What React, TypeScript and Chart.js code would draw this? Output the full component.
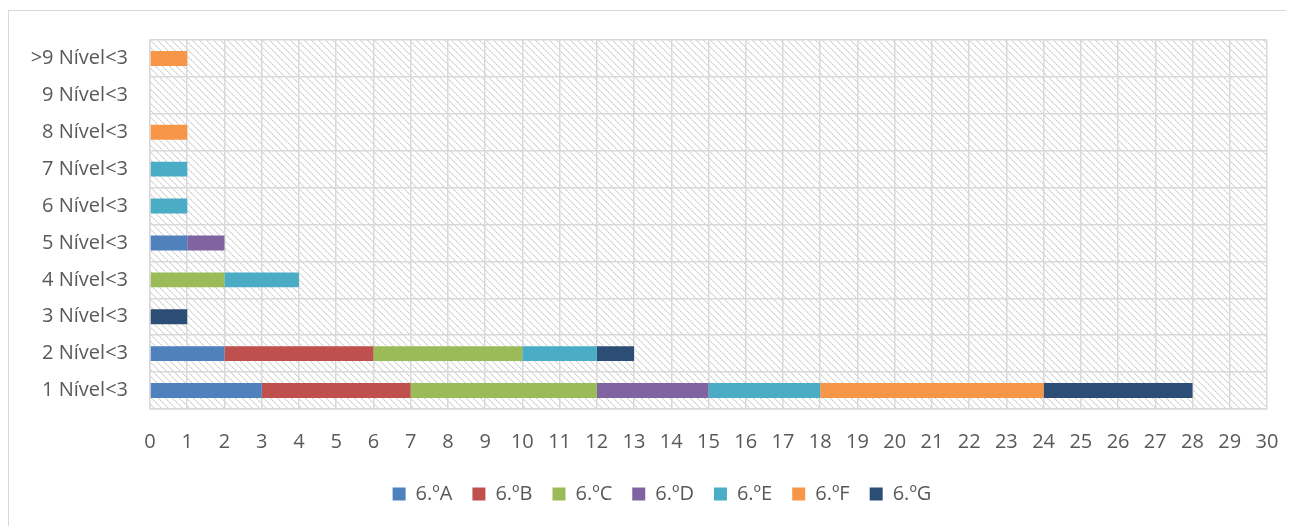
import React, { useEffect, useRef } from "react";
import { Chart, registerables } from "chart.js";

Chart.register(...registerables);

const categories = [">9 Nível<3", "9 Nível<3", "8 Nível<3", "7 Nível<3", "6 Nível<3", "5 Nível<3", "4 Nível<3", "3 Nível<3", "2 Nível<3", "1 Nível<3"];
const seriesNames = ["6.ºA", "6.ºB", "6.ºC", "6.ºD", "6.ºE", "6.ºF", "6.ºG"];
const colors = ["#4F81BD", "#C0504D", "#9BBB59", "#8064A2", "#4BACC6", "#F79646", "#2C4D75"];
const valsA = [0, 0, 0, 0, 0, 1, 0, 0, 2, 3];
const valsB = [0, 0, 0, 0, 0, 0, 0, 0, 4, 4];
const valsC = [0, 0, 0, 0, 0, 0, 2, 0, 4, 5];
const valsD = [0, 0, 0, 0, 0, 1, 0, 0, 0, 3];
const valsE = [0, 0, 0, 1, 1, 0, 2, 0, 2, 3];
const valsF = [1, 0, 1, 0, 0, 0, 0, 0, 0, 6];
const valsG = [0, 0, 0, 0, 0, 0, 0, 1, 1, 4];
const seriesValues = [valsA, valsB, valsC, valsD, valsE, valsF, valsG];
const xMin = 0;
const xMax = 30;

const FONT = "'Open Sans', sans-serif";
const TEXT = "#595959";

function makePattern(): CanvasPattern | string {
  const n = 7;
  const c = document.createElement("canvas");
  c.width = n;
  c.height = n;
  const ctx = c.getContext("2d");
  if (!ctx) return "#fff";
  ctx.fillStyle = "#ffffff";
  ctx.fillRect(0, 0, n, n);
  for (let i = 0; i < n; i++) {
    ctx.fillStyle = i % 2 === 0 ? "#cfcfcf" : "#dedede";
    ctx.fillRect(i, i, 1, 1);
    ctx.fillStyle = "#efefef";
    ctx.fillRect((i + 1) % n, i, 1, 1);
  }
  const p = ctx.createPattern(c, "repeat");
  return p || "#fff";
}

const bgPlugin = {
  id: "hatchBg",
  afterLayout(chart: any) {
    if (chart.legend) {
      chart.legend.left += 24;
      chart.legend.right += 24;
    }
  },
  beforeDraw(chart: any) {
    const { ctx, chartArea } = chart;
    if (!chartArea) return;
    ctx.save();
    ctx.fillStyle = makePattern();
    ctx.fillRect(chartArea.left, chartArea.top, chartArea.right - chartArea.left, chartArea.bottom - chartArea.top);
    ctx.restore();
  },
};

export default function App() {
  const ref = useRef<HTMLCanvasElement | null>(null);
  useEffect(() => {
    document.body.style.overflow = "hidden";
    if (!ref.current) return;
    const chart = new Chart(ref.current, {
      type: "bar",
      data: {
        labels: categories,
        datasets: seriesNames.map((name, i) => ({
          label: name,
          data: seriesValues[i],
          backgroundColor: colors[i],
          borderWidth: 0,
          categoryPercentage: 0.45,
          barPercentage: 0.9,
        })),
      },
      options: {
        indexAxis: "y",
        animation: false,
        responsive: false,
        maintainAspectRatio: false,
        layout: { padding: { top: 29, right: 27, left: 0, bottom: 17 } },
        plugins: {
          legend: {
            position: "bottom",
            labels: {
              color: TEXT,
              font: { family: FONT, size: 20 },
              boxWidth: 13,
              boxHeight: 13,
              padding: 20,
            },
          },
          tooltip: { enabled: false },
        },
        scales: {
          x: {
            stacked: true,
            min: xMin,
            max: xMax,
            ticks: { stepSize: 1, color: TEXT, font: { family: FONT, size: 20 }, padding: 21, maxRotation: 0, autoSkip: false },
            grid: { color: "#d9d9d9", lineWidth: 1.5, drawTicks: false },
            border: { color: "#d9d9d9", width: 1.5 },
            afterFit(scale: any) {
              scale.height = 55;
              scale.paddingLeft = 0;
              scale.paddingRight = 0;
            },
          },
          y: {
            stacked: true,
            ticks: { color: TEXT, font: { family: FONT, size: 20 }, padding: 22 },
            grid: { color: "#d9d9d9", lineWidth: 1.5, drawTicks: false, offset: true },
            border: { color: "#d9d9d9", width: 1.5 },
            afterFit(scale: any) {
              scale.width = 141;
              scale.paddingTop = 0;
              scale.paddingBottom = 0;
            },
          },
        },
      },
      plugins: [bgPlugin],
    } as any);
    return () => chart.destroy();
  }, []);
  return (
    <div style={{ marginTop: 2, width: 1286, height: 520, borderTop: "1px solid #d9d9d9", borderLeft: "1px solid #d9d9d9", borderBottom: "1px solid #d9d9d9" }}>
      <canvas ref={ref} width={1285} height={520} style={{ display: "block" }} />
    </div>
  );
}
